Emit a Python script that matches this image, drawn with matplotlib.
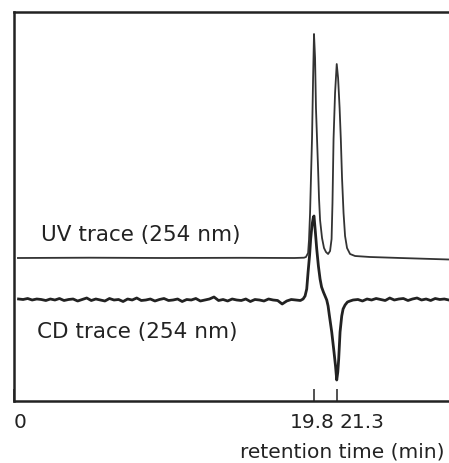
import matplotlib.pyplot as plt
from matplotlib.transforms import ScaledTranslation

# retention time (min) and detector signal
uv_time = [0.26, 5.0, 10.0, 15.0, 18.5, 19.14, 19.27, 19.41, 19.47, 19.54,
           19.60, 19.67, 19.74, 19.80, 19.87, 19.93, 20.00, 20.07, 20.13, 20.20,
           20.33, 20.46, 20.59, 20.73, 20.86, 20.96, 21.02, 21.09, 21.19, 21.30,
           21.39, 21.49, 21.57, 21.65, 21.75, 21.85, 21.98, 22.18, 22.51, 23.5,
           25.5, 28.7]
uv_signal = [0, 0.3, 0, 0.2, 0, 0.3, 1, 5, 18, 45,
             80, 120, 180, 224, 200, 150, 119, 89, 60, 38,
             20, 10, 6, 4, 7, 19, 55, 119, 165, 194,
             180, 150, 119, 80, 45, 22, 10, 4, 2, 1,
             0, -1.5]

cd_time = [0.3, 0.6, 0.9, 1.2, 1.5, 1.8, 2.1, 2.4, 2.7, 3.0,
           3.3, 3.6, 3.9, 4.2, 4.5, 4.8, 5.1, 5.4, 5.7, 6.0,
           6.3, 6.6, 6.9, 7.2, 7.5, 7.8, 8.1, 8.4, 8.7, 9.0,
           9.3, 9.6, 9.9, 10.2, 10.5, 10.8, 11.1, 11.4, 11.7, 12.0,
           12.3, 12.6, 12.9, 13.2, 13.5, 13.8, 14.1, 14.4, 14.7, 15.0,
           15.3, 15.6, 15.9, 16.2, 16.5, 16.8, 17.1, 17.4, 17.7, 18.0,
           18.3, 18.6, 18.9,
           19.08, 19.21, 19.32, 19.41, 19.51, 19.58, 19.67, 19.76, 19.80, 19.89,
           19.98, 20.09, 20.20, 20.30, 20.42, 20.53, 20.64, 20.73, 20.81, 20.97,
           21.12, 21.22, 21.30, 21.37, 21.43, 21.52, 21.63, 21.72, 21.85, 22.01,
           22.18, 22.38,
           22.7, 23.0, 23.3, 23.6, 23.9, 24.2, 24.5, 24.8, 25.1, 25.4,
           25.7, 26.0, 26.3, 26.6, 26.9, 27.2, 27.5, 27.8, 28.1, 28.4,
           28.7]
cd_signal = [1, 0.5, 1.5, 0, 1, 0.5, -0.5, 1, 0, 1.5,
             -0.5, 0.5, 1, -1, 0.5, 2, -0.5, 1, 0, -1,
             1.5, 0, 0.5, -1.5, 1, 0, 2, -0.5, 0, 1,
             -1, 0.5, 1.5, -0.5, 0, 1, -1.5, 0.5, 0, 1.5,
             -1, 0, 1, 3, -0.5, 0.5, -1, 1, 0, -0.5,
             1, -1.5, 0.5, 0, -1, 1, 0, -0.5, -4, -1,
             0.5, 0, -0.5,
             1, 4, 11, 28, 45, 61, 75, 83, 84, 68,
             51, 34, 21, 13, 8, 4, 0, -6, -15, -32,
             -52, -66, -80, -72, -59, -32, -16, -9, -5, -2,
             -1, 0,
             0.5, -1, 1, 0, 1.5, 0.5, -0.5, 2, 0, 1,
             1.5, -0.5, 1, 2, 0, 1, -0.5, 1.5, 0.5, 1,
             0]

tick_pos = [0, 19.8, 21.3]
tick_labels = ['0', '19.8', '21.3']

plt.rcParams['font.family'] = 'DejaVu Sans'
ink = '#222222'

fig = plt.figure(figsize=(4.49, 4.64), dpi=100)
ax = fig.add_axes([14/449, 62/464, 435/449, 389/464])

# traces stacked with a vertical offset
ax.plot(cd_time, [v + 101 for v in cd_signal], color=ink, lw=2.0)
ax.plot(uv_time, [v + 143 for v in uv_signal], color='#333333', lw=1.3)

ax.text(27/435, 402 - 235, 'UV trace (254 nm)', transform=ax.get_yaxis_transform(),
        fontsize=15.5, color=ink, va='center')
ax.text(23/435, 402 - 332, 'CD trace (254 nm)', transform=ax.get_yaxis_transform(),
        fontsize=15.5, color=ink, va='center')

ax.set_xlim(0, 28.71)
ax.set_ylim(0, 389)
ax.set_yticks([])
ax.set_xticks(tick_pos, tick_labels)
ax.tick_params(axis='x', direction='in', length=8.6, width=1.1, pad=8,
               labelsize=14.5, labelcolor=ink, color=ink)
labels = ax.get_xticklabels()
labels[0].set_ha('left')
labels[1].set_transform(labels[1].get_transform()
                        + ScaledTranslation(-1.5/72, 0, fig.dpi_scale_trans))
labels[2].set_ha('left')
labels[2].set_transform(labels[2].get_transform()
                        + ScaledTranslation(2/72, 0, fig.dpi_scale_trans))

for side in ['left', 'top', 'bottom']:
    ax.spines[side].set_linewidth(1.8)
    ax.spines[side].set_color(ink)
ax.spines['right'].set_visible(False)

fig.text(240/449, 1 - 452/464, 'retention time (min)', fontsize=14.5,
         color=ink, va='center', ha='left')

fig.savefig('out.png', dpi=100)
